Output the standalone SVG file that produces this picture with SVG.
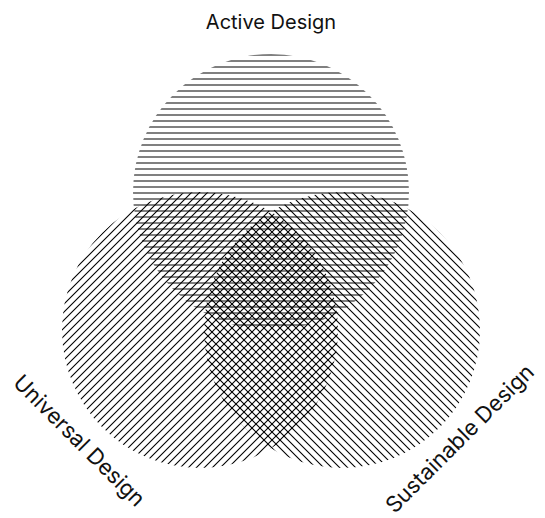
<svg xmlns="http://www.w3.org/2000/svg" width="545" height="518" viewBox="0 0 545 518">
  <style>
    .label { font-family: Inter, "Liberation Sans", sans-serif; font-size: 20px; fill: #111; }
    .diag { font-size: 22px; }
  </style>
  <defs>
    <pattern id="hatchH" patternUnits="userSpaceOnUse" width="12" height="6">
      <rect x="0" y="0" width="12" height="2" fill="#808080"/>
    </pattern>
    <pattern id="hatchL" patternUnits="userSpaceOnUse" width="8" height="8">
      <path d="M-2,2 L2,-2 M0,8 L8,0 M6,10 L10,6" stroke="#000" stroke-width="1.1" fill="none"/>
    </pattern>
    <pattern id="hatchR" patternUnits="userSpaceOnUse" width="8" height="8">
      <path d="M-2,6 L2,10 M0,0 L8,8 M6,-2 L10,2" stroke="#000" stroke-width="1.1" fill="none"/>
    </pattern>
  </defs>
  <rect width="545" height="518" fill="#fff"/>
  <g id="active-design">
    <circle cx="271" cy="192" r="138" fill="url(#hatchH)"/>
  </g>
  <g id="universal-design">
    <circle cx="200" cy="330" r="138" fill="url(#hatchL)"/>
  </g>
  <g id="sustainable-design">
    <circle cx="342" cy="330" r="138" fill="url(#hatchR)"/>
  </g>
  <g id="connectors"></g>
  <g id="labels">
    <text class="label" x="271" y="29" text-anchor="middle">Active Design</text>
    <text class="label diag" x="74" y="446" text-anchor="middle" transform="rotate(45 74 446)">Universal Design</text>
    <text class="label diag" x="465" y="444" text-anchor="middle" transform="rotate(-45 465 444)">Sustainable Design</text>
  </g>
</svg>
